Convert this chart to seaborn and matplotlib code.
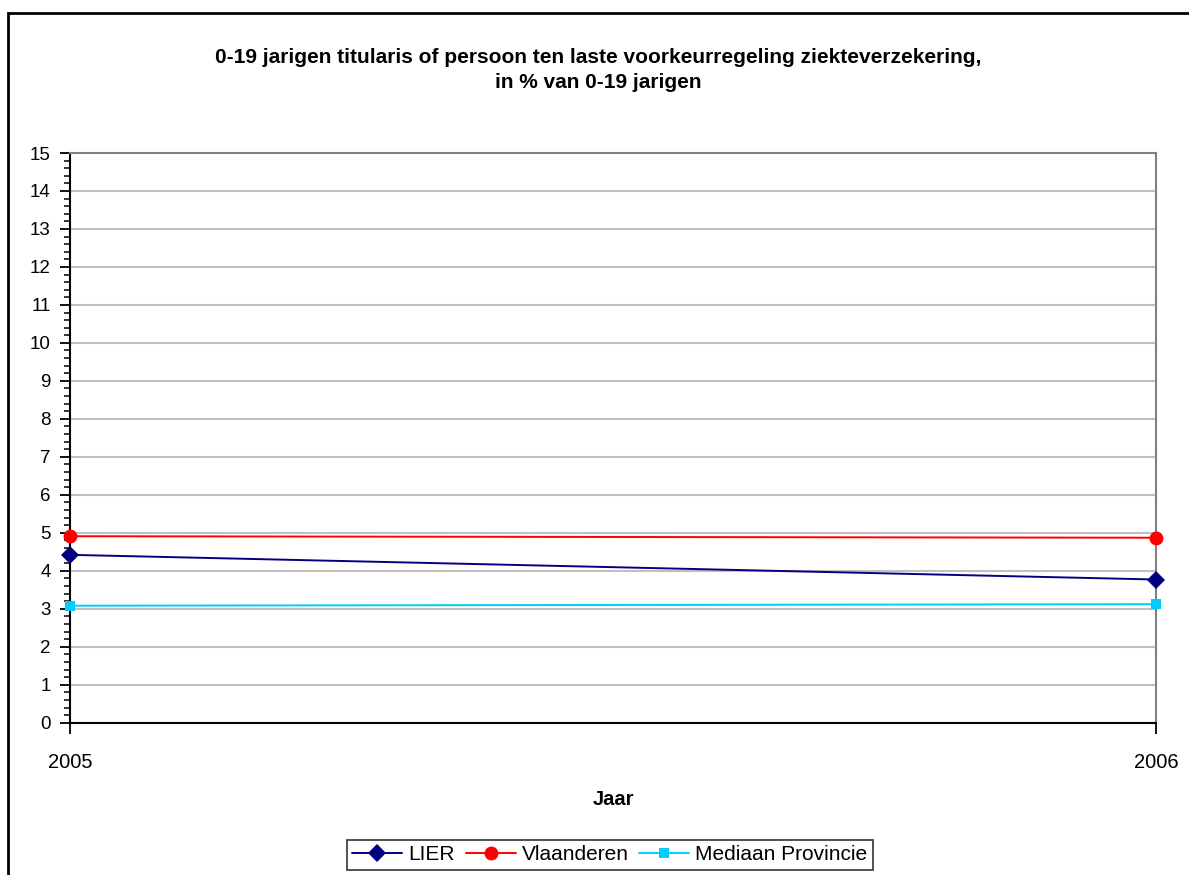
import matplotlib
matplotlib.use("Agg")
import matplotlib.pyplot as plt
import matplotlib.ticker as mticker
from matplotlib.patches import Rectangle
import seaborn as sns
import pandas as pd

# Data
jaren = [2005, 2006]
lier = [4.42, 3.77]
vlaanderen = [4.91, 4.87]
mediaan = [3.08, 3.12]

reeksen = ["LIER", "Vlaanderen", "Mediaan Provincie"]
df = pd.DataFrame({
    "Jaar": jaren * 3,
    "Waarde": lier + vlaanderen + mediaan,
    "Reeks": [r for r in reeksen for _ in jaren],
})

sns.set_theme(style="white")
plt.rcParams["font.family"] = ["Liberation Sans", "DejaVu Sans"]

kleuren = {"LIER": "#000080", "Vlaanderen": "#FF0000", "Mediaan Provincie": "#00CCFF"}
markers = {"LIER": "D", "Vlaanderen": "o", "Mediaan Provincie": "s"}
msize = {"LIER": 9, "Vlaanderen": 10, "Mediaan Provincie": 7.5}

fig = plt.figure(figsize=(11.89, 8.75), dpi=100)
ax = fig.add_axes([70 / 1189, 1 - 722.7 / 875, (1156 - 70) / 1189, (722.7 - 153) / 875])

for naam in reeksen:
    sub = df[df["Reeks"] == naam]
    sns.lineplot(data=sub, x="Jaar", y="Waarde", ax=ax, color=kleuren[naam],
                 marker=markers[naam], markersize=msize[naam], markeredgewidth=0,
                 linewidth=1.4, label=naam, clip_on=False, zorder=3)

ax.set_xlim(2005, 2006)
ax.set_ylim(0, 15)
ax.set_xticks(jaren)
ax.set_xticklabels([str(j) for j in jaren])
ax.yaxis.set_major_locator(mticker.MultipleLocator(1))
ax.yaxis.set_minor_locator(mticker.MultipleLocator(0.2))
ax.grid(axis="y", which="major", color="#C0C0C0", linewidth=1.5, zorder=0)
ax.set_axisbelow(True)

for side in ["left", "bottom"]:
    ax.spines[side].set_color("black")
    ax.spines[side].set_linewidth(1.5)
for side in ["top", "right"]:
    ax.spines[side].set_color("#808080")
    ax.spines[side].set_linewidth(1.5)

ax.tick_params(axis="y", which="major", direction="out", length=7, width=1.3,
               color="black", left=True, labelsize=13.5, pad=7, labelcolor="black")
ax.tick_params(axis="y", which="minor", direction="out", length=4, width=1.1,
               color="black", left=True)
ax.tick_params(axis="x", which="major", direction="out", length=8, width=1.3,
               color="black", bottom=True, labelsize=14.5, pad=14, labelcolor="black")

ax.set_xlabel("Jaar", fontsize=14.5, fontweight="bold", labelpad=13, color="black")
ax.set_ylabel("")

fig.text(0.503, 1 - 70 / 875,
         "0-19 jarigen titularis of persoon ten laste voorkeurregeling ziekteverzekering,\nin % van 0-19 jarigen",
         ha="center", va="center", fontsize=15, fontweight="bold", linespacing=1.45,
         color="black")

leg = ax.legend(loc="center", bbox_to_anchor=(610 / 1189, 1 - 855 / 875),
                bbox_transform=fig.transFigure, ncol=3, frameon=True, fancybox=False,
                fontsize=15, handlelength=2.4, handletextpad=0.3, columnspacing=0.5,
                borderpad=0.25, edgecolor="black")
leg.get_frame().set_linewidth(1.2)
for t in leg.get_texts():
    t.set_color("black")

# Outer chart frame
fig.patches.append(Rectangle((8 / 1189, -0.1), 1.2, 1 - 13 / 875 + 0.1,
                             transform=fig.transFigure, fill=False,
                             edgecolor="black", linewidth=2, zorder=10))

fig.savefig("out.png", dpi=100)
